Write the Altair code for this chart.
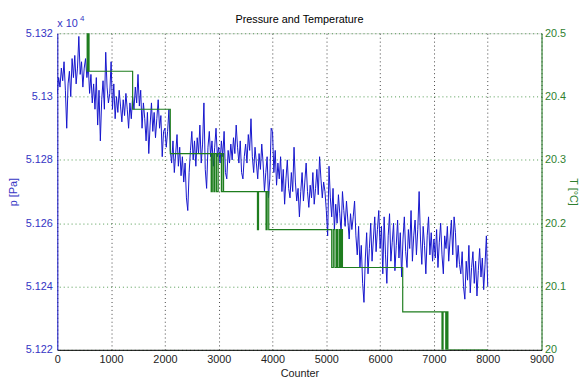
import altair as alt
import pandas as pd

# ---- data ----
counter_step = 25  # samples every 25 counts, 0..8000

p_0000 = [51301, 51306, 51303, 51309, 51305, 51311, 51302, 51290, 51304, 51308,
          51300, 51312, 51306, 51313, 51304, 51309, 51319, 51307, 51311, 51303]
p_0500 = [51309, 51312, 51306, 51310, 51301, 51307, 51298, 51304, 51296, 51306,
          51291, 51302, 51286, 51299, 51305, 51296, 51314, 51303, 51298, 51301]
p_1000 = [51311, 51296, 51304, 51293, 51300, 51295, 51302, 51297, 51292, 51299,
          51294, 51301, 51296, 51290, 51298, 51293, 51300, 51296, 51303, 51298]
p_1500 = [51307, 51297, 51302, 51290, 51298, 51293, 51286, 51295, 51282, 51291,
          51298, 51289, 51295, 51287, 51293, 51299, 51290, 51294, 51281, 51289]
p_2000 = [51290, 51284, 51289, 51296, 51283, 51279, 51286, 51276, 51282, 51288,
          51278, 51284, 51275, 51281, 51273, 51279, 51268, 51264, 51276, 51283]
p_2500 = [51289, 51280, 51286, 51278, 51287, 51282, 51291, 51279, 51285, 51298,
          51277, 51271, 51284, 51289, 51281, 51286, 51278, 51284, 51290, 51281]
p_3000 = [51284, 51279, 51286, 51281, 51289, 51276, 51274, 51283, 51279, 51285,
          51280, 51287, 51282, 51291, 51284, 51279, 51286, 51276, 51274, 51281]
p_3500 = [51285, 51279, 51288, 51283, 51293, 51281, 51276, 51284, 51279, 51274,
          51282, 51277, 51285, 51279, 51270, 51276, 51281, 51268, 51274, 51290]
p_4000 = [51289, 51276, 51283, 51272, 51279, 51274, 51281, 51270, 51277, 51266,
          51274, 51280, 51271, 51268, 51276, 51270, 51284, 51273, 51267, 51271]
p_4500 = [51262, 51270, 51276, 51267, 51273, 51279, 51270, 51265, 51272, 51268,
          51276, 51266, 51271, 51277, 51269, 51281, 51274, 51268, 51273, 51270]
p_5000 = [51264, 51256, 51278, 51268, 51262, 51271, 51258, 51266, 51260, 51269,
          51263, 51257, 51270, 51264, 51259, 51267, 51261, 51255, 51263, 51258]
p_5500 = [51262, 51267, 51256, 51250, 51259, 51246, 51253, 51241, 51235, 51249,
          51257, 51244, 51252, 51260, 51248, 51255, 51262, 51251, 51258, 51264]
p_6000 = [51252, 51259, 51244, 51262, 51250, 51241, 51256, 51263, 51248, 51254,
          51260, 51245, 51253, 51261, 51249, 51257, 51243, 51255, 51262, 51251]
p_6500 = [51246, 51258, 51252, 51264, 51248, 51256, 51261, 51250, 51258, 51270,
          51255, 51247, 51259, 51253, 51244, 51256, 51262, 51250, 51257, 51248]
p_7000 = [51255, 51249, 51258, 51246, 51254, 51260, 51250, 51244, 51256, 51252,
          51259, 51248, 51255, 51261, 51250, 51262, 51257, 51246, 51253, 51247]
p_7500 = [51244, 51251, 51240, 51236, 51248, 51242, 51253, 51238, 51246, 51251,
          51241, 51248, 51237, 51245, 51252, 51243, 51249, 51239, 51247, 51256]
p_8000 = [51240]

pressure = (p_0000 + p_0500 + p_1000 + p_1500 + p_2000 + p_2500 + p_3000 + p_3500 +
            p_4000 + p_4500 + p_5000 + p_5500 + p_6000 + p_6500 + p_7000 + p_7500 + p_8000)
p_counter = [i * counter_step for i in range(len(pressure))]

# temperature: level held from each change point on (step-after)
t_start = [540, 555, 570, 590,
           1400, 2100,
           2860, 2880, 2910, 2930, 2960, 2990, 3050, 3080, 3090,
           3720, 3740, 3880, 3900, 3930,
           5100, 5130, 5160, 5190, 5210, 5240, 5260, 5280, 5300,
           6420,
           7150, 7170, 7220, 7240, 7260,
           8000]
t_level = [20.5, 20.44, 20.5, 20.44,
           20.38, 20.31,
           20.25, 20.31, 20.25, 20.31, 20.25, 20.31, 20.25, 20.31, 20.25,
           20.19, 20.25, 20.19, 20.25, 20.19,
           20.13, 20.19, 20.13, 20.19, 20.13, 20.19, 20.13, 20.19, 20.13,
           20.06,
           20.0, 20.06, 20.0, 20.06, 20.0,
           20.0]

x_ticks = [0, 1000, 2000, 3000, 4000, 5000, 6000, 7000, 8000, 9000]
p_ticks = [51220, 51240, 51260, 51280, 51300, 51320]
t_ticks = [20.0, 20.1, 20.2, 20.3, 20.4, 20.5]

title_text = ["Pressure and Temperature"]
exp_text = ["x 10", "4"]

# ---- styling ----
FONT = "Liberation Sans"
BLUE = "#1414cc"
BLUE_TXT = "#3434c4"
GREEN = "#1e7d1e"
GREEN_TXT = "#2f7f2f"
W, H = 491, 321

p_df = pd.DataFrame({"counter": p_counter, "p": pressure})
t_df = pd.DataFrame({"counter": t_start, "T": t_level})

x_enc = alt.X(
    "counter:Q",
    scale=alt.Scale(domain=[0, 9000], nice=False, zero=False),
    axis=alt.Axis(values=x_ticks, format="d", title="Counter", grid=True,
                  gridColor="#000000", gridDash=[1, 3], gridOpacity=0.75, ticks=False,
                  labelFlush=False, labelColor="#222222", domainColor="#000000",
                  labelFont=FONT, titleFont=FONT, labelFontSize=11, titleFontSize=11,
                  titleFontWeight="normal", titleColor="#222222", labelPadding=4,
                  titlePadding=3),
)

p_line = alt.Chart(p_df).mark_line(color=BLUE, strokeWidth=1, clip=True).encode(
    x=x_enc,
    y=alt.Y("p:Q",
            scale=alt.Scale(domain=[51220, 51320], nice=False, zero=False),
            axis=alt.Axis(orient="left", values=p_ticks, title="p [Pa]", grid=False,
                          ticks=False, labelFlush=False,
                          labelExpr="format(datum.value / 10000, '.3~f')",
                          labelColor=BLUE_TXT, titleColor=BLUE_TXT, domainColor=BLUE,
                          labelFont=FONT, titleFont=FONT, labelFontSize=11,
                          titleFontSize=11, titleFontWeight="normal",
                          labelPadding=5, titlePadding=7)),
)

t_line = alt.Chart(t_df).mark_line(color=GREEN, strokeWidth=1.2, interpolate="step-after",
                                   clip=True).encode(
    x=alt.X("counter:Q"),
    y=alt.Y("T:Q",
            scale=alt.Scale(domain=[20.0, 20.5], nice=False, zero=False),
            axis=alt.Axis(orient="right", values=t_ticks, title="T [°C]", grid=True,
                          gridColor=GREEN, gridDash=[1, 3], gridOpacity=0.8,
                          ticks=False, labelFlush=False, format=".1~f",
                          labelColor=GREEN_TXT, titleColor=GREEN_TXT, domainColor=GREEN,
                          labelFont=FONT, titleFont=FONT, labelFontSize=11,
                          titleFontSize=11, titleFontWeight="normal",
                          labelPadding=3, titlePadding=2)),
)

title_mark = alt.Chart(pd.DataFrame({"t": title_text})).mark_text(
    align="center", baseline="alphabetic", font=FONT, fontSize=11, color="#000000"
).encode(text="t:N", x=alt.value(W / 2), y=alt.value(-10))

exp_base = alt.Chart(pd.DataFrame({"t": [exp_text[0]]})).mark_text(
    align="left", baseline="alphabetic", font=FONT, fontSize=11, color=BLUE_TXT
).encode(text="t:N", x=alt.value(0), y=alt.value(-6))

exp_sup = alt.Chart(pd.DataFrame({"t": [exp_text[1]]})).mark_text(
    align="left", baseline="alphabetic", font=FONT, fontSize=8, color=BLUE_TXT
).encode(text="t:N", x=alt.value(23), y=alt.value(-12))

chart = (
    alt.layer(p_line, t_line, title_mark, exp_base, exp_sup)
    .resolve_scale(y="independent")
    .properties(
        width=W,
        height=H,
        autosize=alt.AutoSizeParams(type="none"),
        padding={"left": 50, "top": 23, "right": 38, "bottom": 30},
    )
    .configure_view(stroke="#444444", strokeWidth=1)
    .configure(background="#ffffff")
)

chart.save("out.html", embed_options={"renderer": "svg", "actions": False})
